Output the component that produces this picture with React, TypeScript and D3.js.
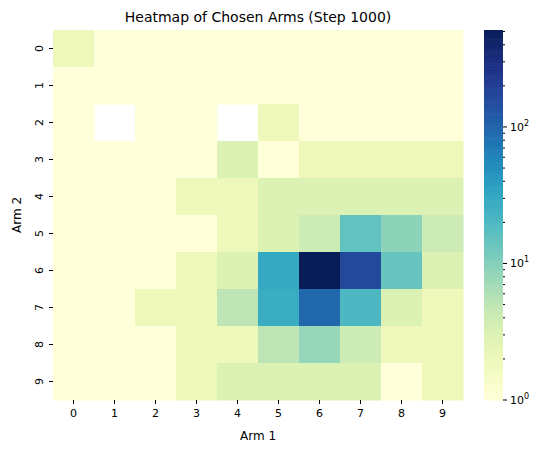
import React from 'react';
import * as d3 from 'd3';

const arm1 = [0, 1, 2, 3, 4, 5, 6, 7, 8, 9];
const arm2 = [0, 1, 2, 3, 4, 5, 6, 7, 8, 9];
// rows = Arm 2, cols = Arm 1 ; 0 = never chosen (blank)
const counts = [
  [2, 1, 1, 1, 1, 1, 1, 1, 1, 1],
  [1, 1, 1, 1, 1, 1, 1, 1, 1, 1],
  [1, 0, 1, 1, 0, 2, 1, 1, 1, 1],
  [1, 1, 1, 1, 3, 1, 2, 2, 2, 2],
  [1, 1, 1, 2, 2, 3, 3, 3, 3, 3],
  [1, 1, 1, 1, 2, 3, 4, 15, 9, 4],
  [1, 1, 1, 2, 3, 30, 510, 160, 14, 3],
  [1, 1, 2, 2, 5, 27, 95, 20, 3, 2],
  [1, 1, 1, 2, 2, 5, 8, 4, 2, 2],
  [1, 1, 1, 2, 3, 3, 3, 3, 1, 2],
];
const vmax = 513;

const W = 538, H = 453;
const left = 53, right = 463, top = 30, bottom = 400;
const cbX = 484, cbW = 19;

export default function App() {
  const x = d3.scaleBand<number>().domain(arm1).range([left, right]);
  const y = d3.scaleBand<number>().domain(arm2).range([top, bottom]);
  const norm = d3.scaleLog().domain([1, vmax]).range([0, 1]).clamp(true);
  const color = (v: number) => d3.interpolateYlGnBu(norm(v));
  const cy = d3.scaleLog().domain([1, vmax]).range([bottom, top]);
  const steps = d3.range(0, 200).map(i => i / 200);
  const minor: number[] = [];
  [1, 10, 100].forEach(d => d3.range(2, 10).forEach(k => { if (d * k < vmax) minor.push(d * k); }));
  const font = 'DejaVu Sans, sans-serif';
  return (
    <svg width={W} height={H} style={{ position: 'absolute', left: 0, top: 0 }} fontFamily={font}>
      <rect width={W} height={H} fill="#fff" />
      <text x={(left + right) / 2} y={22} textAnchor="middle" fontSize={14}>Heatmap of Chosen Arms (Step 1000)</text>
      {counts.map((row, r) => row.map((v, c) => v > 0 ? (
        <rect key={`${r}-${c}`} x={x(c)} y={y(r)} width={x.bandwidth() + 0.5} height={y.bandwidth() + 0.5} fill={color(v)} />
      ) : null))}
      {arm1.map(a => (
        <g key={a}>
          <line x1={x(a)! + x.bandwidth() / 2} x2={x(a)! + x.bandwidth() / 2} y1={bottom} y2={bottom + 4} stroke="#000" />
          <text x={x(a)! + x.bandwidth() / 2} y={bottom + 17} textAnchor="middle" fontSize={11}>{a}</text>
        </g>
      ))}
      {arm2.map(a => (
        <g key={a}>
          <line x1={left - 4} x2={left} y1={y(a)! + y.bandwidth() / 2} y2={y(a)! + y.bandwidth() / 2} stroke="#000" />
          <text transform={`translate(${left - 10},${y(a)! + y.bandwidth() / 2}) rotate(-90)`} textAnchor="middle" fontSize={11}>{a}</text>
        </g>
      ))}
      <text x={(left + right) / 2} y={440} textAnchor="middle" fontSize={12}>Arm 1</text>
      <text transform={`translate(21,${(top + bottom) / 2}) rotate(-90)`} textAnchor="middle" fontSize={12}>Arm 2</text>
      {steps.map(t => (
        <rect key={t} x={cbX} width={cbW} y={bottom - (t + 0.005) * (bottom - top)} height={(bottom - top) / 200 + 0.6} fill={d3.interpolateYlGnBu(t)} />
      ))}
      {minor.map(m => <line key={m} x1={cbX + cbW} x2={cbX + cbW + 2} y1={cy(m)} y2={cy(m)} stroke="#000" />)}
      {[1, 10, 100].map((m, i) => (
        <g key={m}>
          <line x1={cbX + cbW} x2={cbX + cbW + 4} y1={cy(m)} y2={cy(m)} stroke="#000" />
          <text x={cbX + cbW + 7} y={cy(m) + 4} fontSize={11}>10<tspan dy={-5} fontSize={8}>{i}</tspan></text>
        </g>
      ))}
    </svg>
  );
}
